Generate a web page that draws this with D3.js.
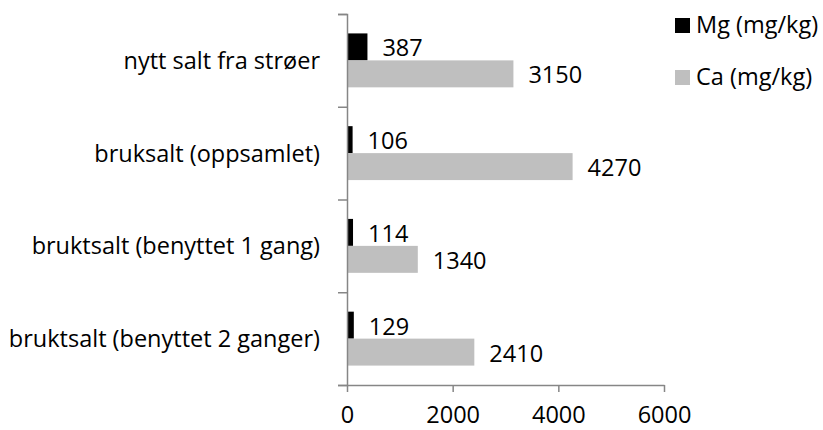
<!DOCTYPE html>
<html>
<head>
<meta charset="utf-8">
<script src="https://cdn.jsdelivr.net/npm/d3@7"></script>
<style>
  body { margin: 0; background: #fff; }
  svg text { font-family: "Open Sans", sans-serif; fill: #000; }
  .axis path, .axis line { stroke: #868686; stroke-width: 1.5; }
</style>
</head>
<body>
<div id="chart"></div>
<script>
// data
const categories = ["nytt salt fra strøer", "bruksalt (oppsamlet)", "bruktsalt (benyttet 1 gang)", "bruktsalt (benyttet 2 ganger)"];
const series = ["Mg (mg/kg)", "Ca (mg/kg)"];
const mgValues = [387, 106, 114, 129];
const caValues = [3150, 4270, 1340, 2410];
const xTicks = [0, 2000, 4000, 6000];
const colors = ["#000000", "#bfbfbf"];

function drawChart() {
    let W = 823, H = 430;
    let margin = { top: 14, bottom: 45, left: 347, right: 159 };
    let width = W - margin.left - margin.right,
        height = H - margin.top - margin.bottom;
    let fs = '23.5px';

    let svg = d3.select('#chart').append('svg')
        .attr('width', W)
        .attr('height', H);

    let g = svg.append('g')
        .attr('transform', `translate(${margin.left},${margin.top})`);

    // Scales
    let xscale = d3.scaleLinear().domain([0, 6000]).range([0, width]);
    let yscale = d3.scaleBand().domain(categories).range([0, height]);
    let inner = d3.scaleBand().domain(series).range([0, yscale.bandwidth()]).paddingOuter(0.72);

    let rows = categories.map((c, i) => ({ cat: c, vals: [mgValues[i], caValues[i]] }));

    let groups = g.selectAll('.row')
        .data(rows)
        .join('g')
        .attr('class', 'row')
        .attr('transform', d => `translate(0,${yscale(d.cat)})`);

    groups.selectAll('rect')
        .data(d => d.vals.map((v, j) => ({ s: series[j], v: v, j: j })))
        .join('rect')
        .attr('x', 0)
        .attr('y', d => inner(d.s))
        .attr('height', inner.bandwidth())
        .attr('width', d => xscale(d.v))
        .style('fill', d => colors[d.j]);

    groups.selectAll('.val')
        .data(d => d.vals.map((v, j) => ({ s: series[j], v: v })))
        .join('text')
        .attr('class', 'val')
        .attr('x', d => xscale(d.v) + 15)
        .attr('y', d => inner(d.s) + inner.bandwidth() / 2 + 1)
        .attr('dy', '0.36em')
        .style('font-size', fs)
        .text(d => d.v);

    // y axis: boundary ticks + category labels
    let yb = d3.scaleLinear().domain([0, categories.length]).range([0, height]);
    g.append('g').attr('class', 'axis')
        .call(d3.axisLeft(yb).ticks(categories.length).tickSize(9).tickFormat(''));

    g.selectAll('.cat')
        .data(categories)
        .join('text')
        .attr('class', 'cat')
        .attr('x', -27)
        .attr('y', d => yscale(d) + yscale.bandwidth() / 2)
        .attr('dy', '0.36em')
        .attr('text-anchor', 'end')
        .style('font-size', fs)
        .text(d => d);

    // x axis
    let gx = g.append('g').attr('class', 'axis')
        .attr('transform', `translate(0,${height})`)
        .call(d3.axisBottom(xscale).tickValues(xTicks).tickSize(7).tickSizeOuter(0).tickPadding(14).tickFormat(d3.format('d')));
    gx.selectAll('text').style('font-size', fs).attr('fill', '#000');

    // legend
    let lg = svg.append('g').attr('transform', 'translate(675,18)');
    let items = lg.selectAll('g').data(series).join('g')
        .attr('transform', (d, i) => `translate(0,${i * 52})`);
    items.append('rect').attr('width', 15).attr('height', 15).style('fill', (d, i) => colors[i]);
    items.append('text').attr('x', 21).attr('y', 15).style('font-size', fs).text(d => d);
}

drawChart();
</script>
</body>
</html>
